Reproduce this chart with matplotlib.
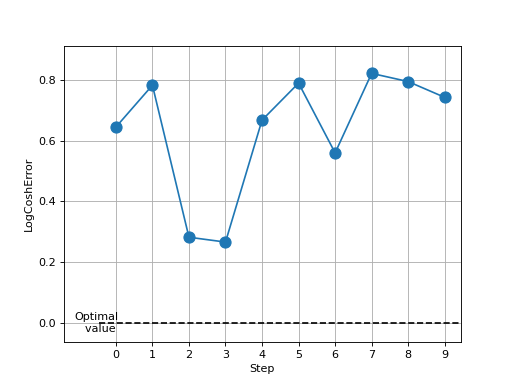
import matplotlib
matplotlib.use("Agg")
import matplotlib.pyplot as plt

steps = [0, 1, 2, 3, 4, 5, 6, 7, 8, 9]
log_cosh_error = [0.645, 0.783, 0.282, 0.266, 0.668, 0.790, 0.560, 0.822, 0.795, 0.743]
optimal = 0.0

fig, ax = plt.subplots(figsize=(6.4, 4.8), dpi=80)
ax.plot(steps, log_cosh_error, marker='o', markersize=10)
ax.hlines(optimal, -0.45, 9.6, colors='black', linestyles='dashed')
ax.text(-0.53, optimal, 'Optimal\n  value', ha='center', va='center')
ax.set_xlim(-1.42, 9.44)
ax.set_ylim(-0.0625, 0.912)
ax.set_xticks(steps)
ax.grid(True)
ax.set_xlabel('Step')
ax.set_ylabel('LogCoshError')
fig.savefig('out.png', dpi=80)
